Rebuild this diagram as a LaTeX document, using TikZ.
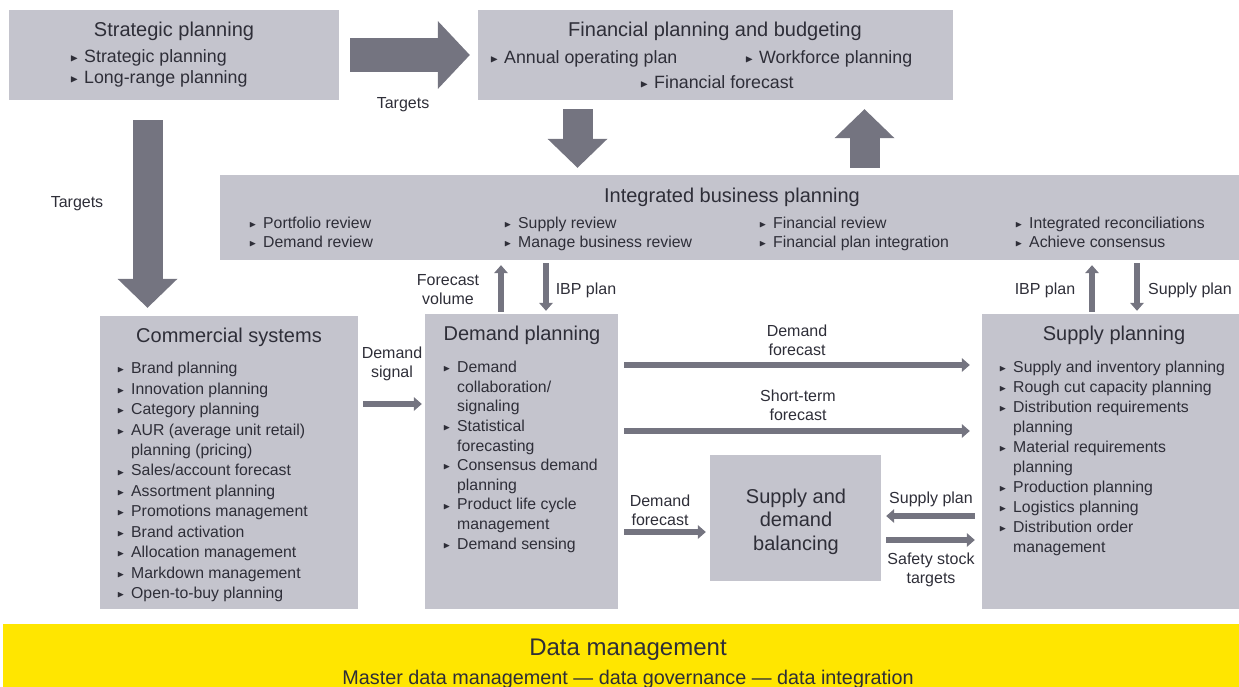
\documentclass[tikz,border=0pt]{standalone}
\usepackage{amssymb}
\usepackage{fontspec}
\setmainfont{Liberation Sans}
\usetikzlibrary{arrows.meta}
\definecolor{boxgray}{RGB}{196,196,205}
\definecolor{arrowgray}{RGB}{116,116,128}
\definecolor{datayellow}{RGB}{255,230,0}
\definecolor{txt}{RGB}{46,46,56}
\newcommand{\tri}{\raisebox{0.1ex}{\scalebox{0.6}{$\blacktriangleright$}}}
\newcommand{\itm}{\makebox[14pt][l]{\tri}}
\newcommand{\cnt}{\hspace*{14pt}}

\begin{document}
\begin{tikzpicture}[x=1pt, y=-1pt,
  every node/.style={text=txt, inner sep=0pt},
  panel/.style={fill=boxgray},
  heading/.style={font=\fontsize{20}{23.5}\selectfont},
  items/.style={font=\fontsize{15.8}{20}\selectfont, align=left, anchor=north west},
  topitem/.style={font=\fontsize{17.8}{21}\selectfont, anchor=west},
  lbl/.style={font=\fontsize{16}{19}\selectfont, align=center},
  fatarrow/.style={arrowgray, line width=30pt, -{Triangle[width=60pt,length=29pt,line width=0pt]}},
  widearrow/.style={arrowgray, line width=34pt, -{Triangle[width=68pt,length=32pt,line width=0pt]}},
  flow/.style={arrowgray, line width=6.5pt, -{Triangle[width=14pt,length=8pt,line width=0pt]}}]

  \useasboundingbox (0,0) rectangle (1239,687);

  \node[panel, minimum width=330pt, minimum height=90pt] (strat) at (174,55) {};
  \node[panel, minimum width=475pt, minimum height=90pt] (fin) at (715.5,55) {};
  \node[panel, minimum width=1019pt, minimum height=85pt] (ibp) at (729.5,217.5) {};
  \node[panel, minimum width=258pt, minimum height=293pt] (cs) at (229,462.5) {};
  \node[panel, minimum width=193pt, minimum height=295pt] (dp) at (521.5,461.5) {};
  \node[panel, minimum width=257pt, minimum height=295pt] (sp) at (1110.5,461.5) {};
  \node[panel, minimum width=171pt, minimum height=126pt] (sdb) at (795.5,518) {};
  \node[fill=datayellow, minimum width=1236pt, minimum height=63pt] (data) at (621,655.5) {};

  \node[heading] (strat-t) at (174,31) {Strategic planning};
  \node[topitem] at (70,58) {\itm Strategic planning};
  \node[topitem] at (70,79) {\itm Long-range planning};

  \node[heading] (fin-t) at (715,31) {Financial planning and budgeting};
  \node[topitem] at (490,59) {\itm Annual operating plan};
  \node[topitem] at (745,59) {\itm Workforce planning};
  \node[topitem] at (640,82) {\itm Financial forecast};

  \node[heading] (ibp-t) at (732,197) {Integrated business planning};
  \node[items, font=\fontsize{15.8}{19}\selectfont] at (249,217) {\itm Portfolio review\\\itm Demand review};
  \node[items, font=\fontsize{15.8}{19}\selectfont] at (504,217) {\itm Supply review\\\itm Manage business review};
  \node[items, font=\fontsize{15.8}{19}\selectfont] at (759,217) {\itm Financial review\\\itm Financial plan integration};
  \node[items, font=\fontsize{15.8}{19}\selectfont] at (1015,217) {\itm Integrated reconciliations\\\itm Achieve consensus};

  \node[heading] (cs-t) at (229,337) {Commercial systems};
  \node[items, font=\fontsize{15.8}{20.45}\selectfont] at (117,362) {\itm Brand planning\\
    \itm Innovation planning\\
    \itm Category planning\\
    \itm AUR (average unit retail)\\
    \cnt planning (pricing)\\
    \itm Sales/account forecast\\
    \itm Assortment planning\\
    \itm Promotions management\\
    \itm Brand activation\\
    \itm Allocation management\\
    \itm Markdown management\\
    \itm Open-to-buy planning};

  \node[heading] (dp-t) at (522,335) {Demand planning};
  \node[items, font=\fontsize{15.8}{19.6}\selectfont] at (443,361) {\itm Demand\\
    \cnt collaboration/\\
    \cnt signaling\\
    \itm Statistical\\
    \cnt forecasting\\
    \itm Consensus demand\\
    \cnt planning\\
    \itm Product life cycle\\
    \cnt management\\
    \itm Demand sensing};

  \node[heading] (sp-t) at (1114,335) {Supply planning};
  \node[items] at (999,361) {\itm Supply and inventory planning\\
    \itm Rough cut capacity planning\\
    \itm Distribution requirements\\
    \cnt planning\\
    \itm Material requirements\\
    \cnt planning\\
    \itm Production planning\\
    \itm Logistics planning\\
    \itm Distribution order\\
    \cnt management};

  \node[heading, align=center] (sdb-t) at (796,521.5) {Supply and\\demand\\balancing};

  \node[font=\fontsize{24}{28}\selectfont] (data-t) at (628,650) {Data management};
  \node[font=\fontsize{19.8}{22}\selectfont] (data-s) at (628,679) {Master data management — data governance — data integration};

  % big block arrows
  \draw[widearrow, shorten <=11pt, shorten >=8pt] (strat.east) -- (fin.west |- strat.east);
  \draw[fatarrow, shorten <=20pt, shorten >=8pt] (strat.south -| 147.5,0) -- (cs.north -| 147.5,0);
  \draw[fatarrow, shorten <=9pt, shorten >=7pt] (fin.south -| 577.5,0) -- (ibp.north -| 577.5,0);
  \draw[fatarrow, shorten <=7pt, shorten >=9pt] (ibp.north -| 864.5,0) -- (fin.south -| 864.5,0);

  \node[lbl] at (403,105) {Targets};
  \node[lbl] at (77,204) {Targets};

  % thin flows
  \draw[flow, shorten <=2pt, shorten >=5pt] (dp.north -| 501,0) -- (ibp.south -| 501,0);
  \draw[flow, shorten <=3pt, shorten >=3pt] (ibp.south -| 546,0) -- (dp.north -| 546,0);
  \draw[flow, shorten <=2pt, shorten >=5pt] (sp.north -| 1092,0) -- (ibp.south -| 1092,0);
  \draw[flow, shorten <=3pt, shorten >=3pt] (ibp.south -| 1137,0) -- (sp.north -| 1137,0);
  \draw[flow, shorten <=5pt, shorten >=3pt] (cs.east |- 0,404) -- (dp.west |- 0,404);
  \draw[flow, shorten <=6pt, shorten >=12pt] (dp.east |- 0,365) -- (sp.west |- 0,365);
  \draw[flow, shorten <=6pt, shorten >=12pt] (dp.east |- 0,431) -- (sp.west |- 0,431);
  \draw[flow, shorten <=6pt, shorten >=4pt] (dp.east |- 0,532) -- (sdb.west |- 0,532);
  \draw[flow, shorten <=7pt, shorten >=5pt] (sp.west |- 0,516) -- (sdb.east |- 0,516);
  \draw[flow, shorten <=5pt, shorten >=7pt] (sdb.east |- 0,540) -- (sp.west |- 0,540);

  \node[lbl] at (448,290) {Forecast\\volume};
  \node[lbl] at (586,290) {IBP plan};
  \node[lbl] at (1045,290) {IBP plan};
  \node[lbl] at (1190,290) {Supply plan};
  \node[lbl] at (392,364) {Demand\\signal};
  \node[lbl] at (797,340) {Demand\\forecast};
  \node[lbl] at (798,405) {Short-term\\forecast};
  \node[lbl] at (660,510) {Demand\\forecast};
  \node[lbl] at (931,499) {Supply plan};
  \node[lbl] at (931,570) {Safety stock\\targets};
\end{tikzpicture}
\end{document}
